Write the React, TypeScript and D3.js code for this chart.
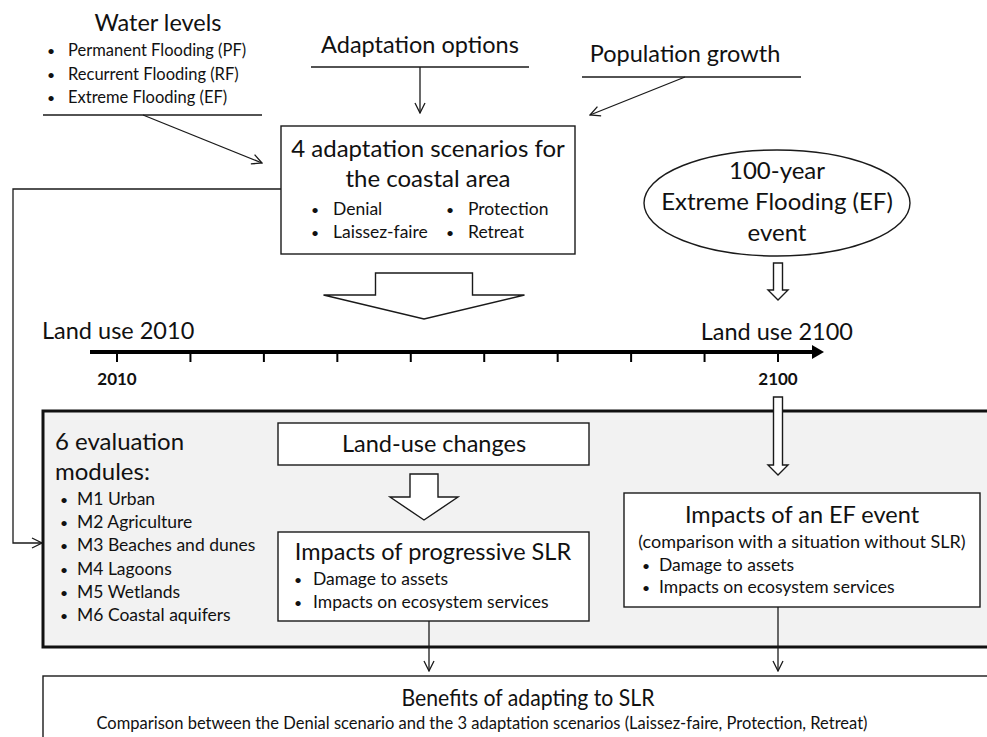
import React from "react";
import * as d3 from "d3";

// content
const waterLevels = ["Permanent Flooding (PF)", "Recurrent Flooding (RF)", "Extreme Flooding (EF)"];
const scenarioTitle = ["4 adaptation scenarios for", "the coastal area"];
const scenariosLeft = ["Denial", "Laissez-faire"];
const scenariosRight = ["Protection", "Retreat"];
const efEventLines = ["100-year", "Extreme Flooding (EF)", "event"];
const modulesTitle = ["6 evaluation", "modules:"];
const modules = ["M1 Urban", "M2 Agriculture", "M3 Beaches and dunes", "M4 Lagoons", "M5 Wetlands", "M6 Coastal aquifers"];
const impactItems = ["Damage to assets", "Impacts on ecosystem services"];
const timelineYears = d3.range(2010, 2101, 10);
const labelledYears = [2010, 2100];

const FONT = "Lato, 'Open Sans', sans-serif";
const BIG = 23.5;
const SMALL = 17.5;

const stroke = "#1a1a1a";

function Bullets({items, x, y, step, size = SMALL, gap = 17}: {items: string[]; x: number; y: number; step: number; size?: number; gap?: number}) {
  return (
    <g fontSize={size}>
      {items.map((t, i) => (
        <g key={t}>
          <text x={x} y={y + i * step} fontSize={14}>•</text>
          <text x={x + gap} y={y + i * step}>{t}</text>
        </g>
      ))}
    </g>
  );
}

function BlockArrow({cx, top, neck, tip, shaftW, headW}: {cx: number; top: number; neck: number; tip: number; shaftW: number; headW: number}) {
  const p = d3.path();
  p.moveTo(cx - shaftW / 2, top);
  p.lineTo(cx + shaftW / 2, top);
  p.lineTo(cx + shaftW / 2, neck);
  p.lineTo(cx + headW / 2, neck);
  p.lineTo(cx, tip);
  p.lineTo(cx - headW / 2, neck);
  p.lineTo(cx - shaftW / 2, neck);
  p.closePath();
  return <path d={p.toString()} fill="#fff" stroke={stroke} strokeWidth={1.4} strokeLinejoin="miter" />;
}

export default function App() {
  const x = d3.scaleLinear().domain([2010, 2100]).range([117, 778]);
  const line = d3.line();

  return (
    <svg width={987} height={737} style={{position: "absolute", left: 0, top: 0, background: "#fff"}}
      fontFamily={FONT} fill="#111">
      <defs>
        <marker id="open" viewBox="0 0 12 12" refX="11" refY="6" markerWidth="12" markerHeight="12"
          markerUnits="userSpaceOnUse" orient="auto">
          <path d="M1,1 L11,6 L1,11" fill="none" stroke={stroke} strokeWidth={1.3} />
        </marker>
      </defs>

      {/* Water levels */}
      <text x={158} y={31} fontSize={BIG} textAnchor="middle">Water levels</text>
      <Bullets items={waterLevels} x={47} y={56} step={23.5} gap={21} size={16.5} />
      <path d={line([[43, 115], [262, 115]])!} stroke={stroke} strokeWidth={1.3} />
      <path d={line([[143, 115], [262, 163]])!} stroke={stroke} strokeWidth={1.3} markerEnd="url(#open)" />

      {/* Adaptation options */}
      <text x={420} y={53} fontSize={BIG} textAnchor="middle">Adaptation options</text>
      <path d={line([[311, 67], [529, 67]])!} stroke={stroke} strokeWidth={1.3} />
      <path d={line([[420, 67], [420, 113]])!} stroke={stroke} strokeWidth={1.3} markerEnd="url(#open)" />

      {/* Population growth */}
      <text x={685} y={62} fontSize={BIG} textAnchor="middle">Population growth</text>
      <path d={line([[582, 77], [801, 77]])!} stroke={stroke} strokeWidth={1.3} />
      <path d={line([[685, 77], [590, 115]])!} stroke={stroke} strokeWidth={1.3} markerEnd="url(#open)" />

      {/* scenario box */}
      <rect x={281} y={126} width={294} height={128} fill="#fff" stroke={stroke} strokeWidth={1.4} />
      {scenarioTitle.map((t, i) => (
        <text key={t} x={428} y={157 + i * 30} fontSize={BIG + 0.5} textAnchor="middle">{t}</text>
      ))}
      <Bullets items={scenariosLeft} x={311} y={215} step={23} gap={22} />
      <Bullets items={scenariosRight} x={446} y={215} step={23} gap={22} />

      {/* connector to modules */}
      <path d={line([[281, 189], [13, 189], [13, 543], [42, 543]])!} fill="none" stroke={stroke} strokeWidth={1.3}
        markerEnd="url(#open)" />

      {/* EF event ellipse */}
      <ellipse cx={777} cy={203} rx={133} ry={53} fill="#fff" stroke={stroke} strokeWidth={1.4} />
      {efEventLines.map((t, i) => (
        <text key={t} x={777} y={179 + i * 31} fontSize={BIG + 0.5} textAnchor="middle">{t}</text>
      ))}
      <BlockArrow cx={778} top={263} neck={290} tip={300} shaftW={9} headW={20} />

      <BlockArrow cx={424} top={273} neck={295} tip={319} shaftW={97} headW={201} />

      {/* timeline */}
      <text x={42} y={339} fontSize={BIG}>Land use 2010</text>
      <text x={853} y={340} fontSize={BIG} textAnchor="end">Land use 2100</text>
      <path d={line([[90, 352], [814, 352]])!} stroke="#000" strokeWidth={4} />
      <path d={d3.line()([[812, 345], [824, 352], [812, 359]])!} fill="#000" />
      {timelineYears.map(y => (
        <line key={y} x1={x(y)} x2={x(y)} y1={352} y2={362} stroke="#000" strokeWidth={2} />
      ))}
      {labelledYears.map(y => (
        <text key={y} x={x(y)} y={385} fontSize={17} fontWeight="bold" textAnchor="middle">{y}</text>
      ))}

      {/* evaluation panel */}
      <rect x={43} y={411} width={960} height={236} fill="#f2f2f2" stroke="#111" strokeWidth={3} />
      {modulesTitle.map((t, i) => (
        <text key={t} x={55} y={450 + i * 30} fontSize={24}>{t}</text>
      ))}
      <Bullets items={modules} x={60} y={505} step={23.2} gap={17} />

      <rect x={278} y={423} width={311} height={42} fill="#fff" stroke={stroke} strokeWidth={1.4} />
      <text x={434} y={452} fontSize={BIG} textAnchor="middle">Land-use changes</text>
      <BlockArrow cx={424} top={474} neck={497} tip={520} shaftW={28} headW={68} />

      <rect x={278} y={532} width={311} height={89} fill="#fff" stroke={stroke} strokeWidth={1.4} />
      <text x={433} y={560} fontSize={BIG} textAnchor="middle">Impacts of progressive SLR</text>
      <Bullets items={impactItems} x={294} y={585} step={23} gap={19} />

      <BlockArrow cx={778} top={397} neck={465} tip={475} shaftW={9} headW={20} />
      <rect x={624} y={493} width={356} height={114} fill="#fff" stroke={stroke} strokeWidth={1.4} />
      <text x={802} y={523} fontSize={BIG} textAnchor="middle">Impacts of an EF event</text>
      <text x={802} y={548} fontSize={SMALL + 0.5} textAnchor="middle">(comparison with a situation without SLR)</text>
      <Bullets items={impactItems} x={642} y={571} step={22} gap={17} />

      {/* outputs */}
      <path d={line([[429, 621], [429, 671]])!} stroke={stroke} strokeWidth={1.3} markerEnd="url(#open)" />
      <path d={line([[778, 607], [778, 671]])!} stroke={stroke} strokeWidth={1.3} markerEnd="url(#open)" />

      <rect x={43} y={676} width={960} height={80} fill="#fff" stroke={stroke} strokeWidth={1.4} />
      <text x={528} y={706} fontSize={BIG - 1} textAnchor="middle" textLength={253} lengthAdjust="spacingAndGlyphs">
        Benefits of adapting to SLR
      </text>
      <text x={482} y={729} fontSize={SMALL} textAnchor="middle" textLength={771} lengthAdjust="spacingAndGlyphs">
        Comparison between the Denial scenario and the 3 adaptation scenarios (Laissez-faire, Protection, Retreat)
      </text>
    </svg>
  );
}
